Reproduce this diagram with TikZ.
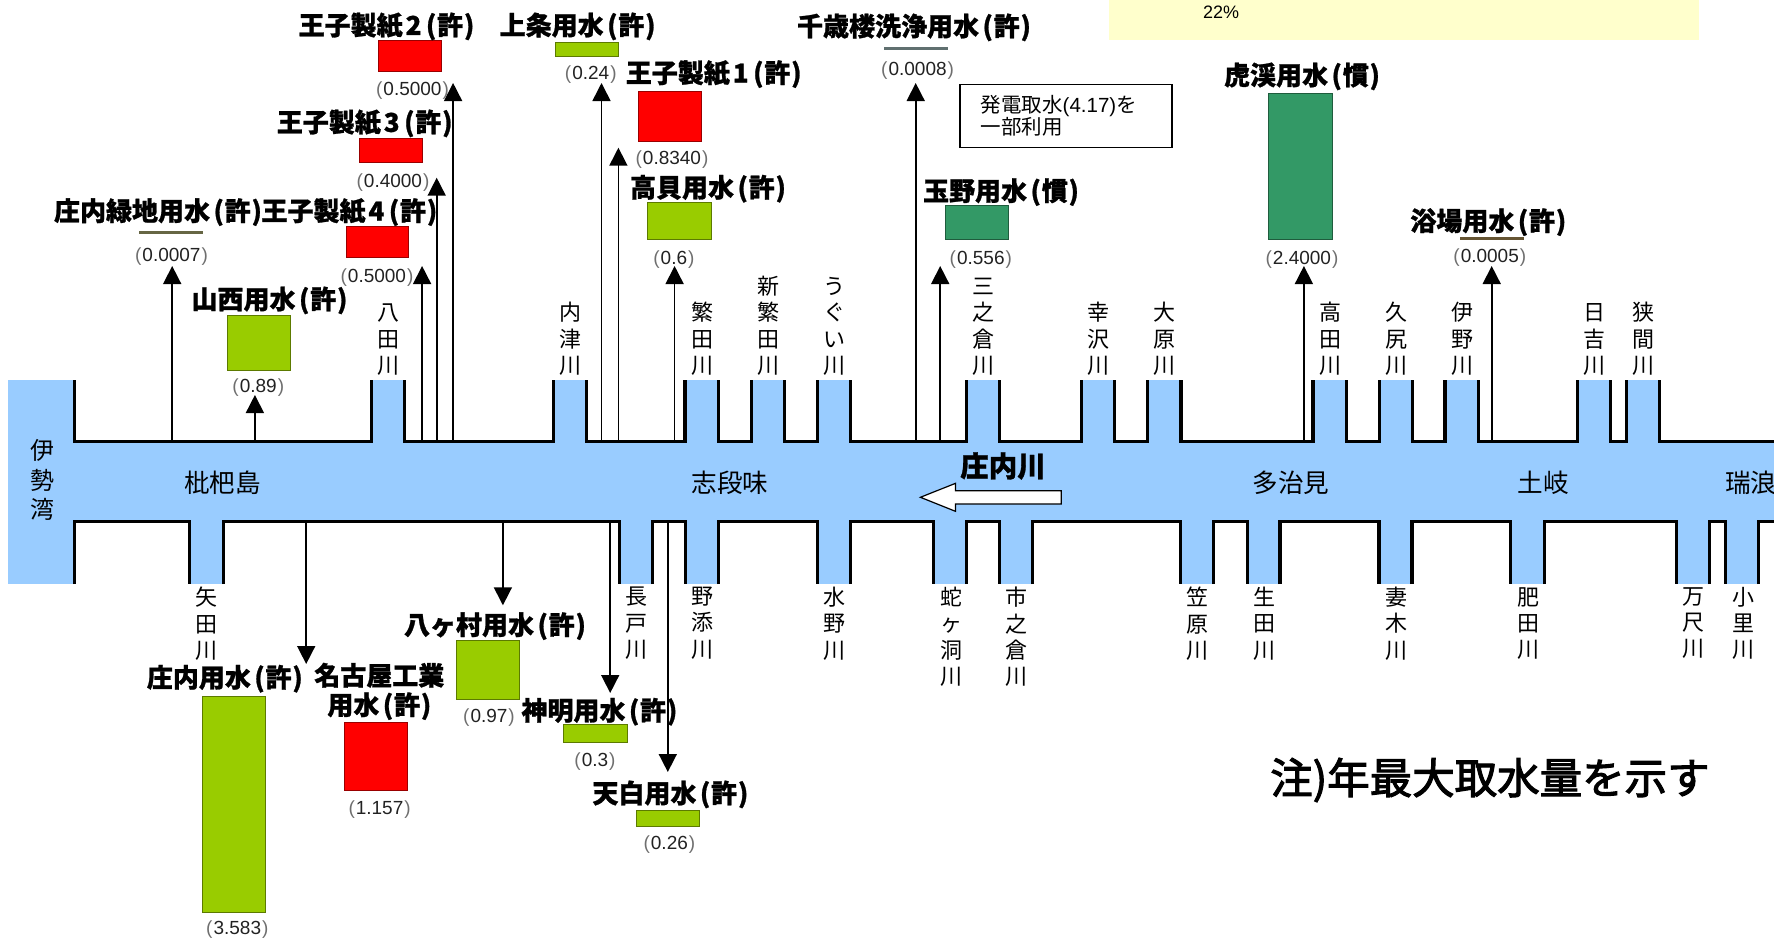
\documentclass[tikz,border=0pt]{standalone}
\usepackage{fontspec}
\usetikzlibrary{arrows.meta}
\setmainfont{Liberation Sans}
\newfontfamily\cjk[BoldFeatures={FakeBold=1}]{Noto Sans CJK JP}
\newfontfamily\cjknote[FakeBold=2.5]{Noto Sans CJK JP}
\definecolor{riverblue}{HTML}{99CCFF}
\definecolor{permgreen}{HTML}{99CC00}
\definecolor{custgreen}{HTML}{339966}
\definecolor{permred}{HTML}{FF0000}
\definecolor{paleyellow}{HTML}{FFFFCC}
\definecolor{valgrey}{HTML}{222222}
\tikzset{
  bank/.style={line width=3.2pt,draw=black,miter limit=10},
  tapline/.style={line width=1.6pt,draw=black,-{Triangle[width=18pt,length=18pt]}},
  barbox/.style={inner sep=0pt,outer sep=0pt,line width=1pt},
  thinbar/.style={inner sep=0pt,outer sep=0pt},
  wname/.style={inner sep=0pt,font=\cjk\bfseries\fontsize{26}{29.4}\selectfont,align=center},
  wvalue/.style={inner sep=0pt,font=\fontsize{19}{22}\selectfont,text=valgrey},
  rivlabel/.style={inner sep=0pt,font=\cjk\fontsize{22}{26.2}\selectfont,align=center},
  place/.style={inner sep=0pt,font=\cjk\fontsize{25.6}{28}\selectfont},
  notebox/.style={draw=black,line width=1.6pt,fill=white,inner xsep=21pt,inner ysep=0pt,text width=170pt,minimum height=63pt,align=left,font=\fontsize{20.5}{21.4}\selectfont},
  flowarrow/.style={draw=black,fill=white,line width=1.2pt,line join=miter}
}
\newcommand{\pa}[1]{\kern3.5pt(\kern0.8pt#1\kern0.8pt)}
\newcommand{\rivT}[3]{\node[rivlabel,anchor=south] (#1) at (#2,375.5) {#3};}
\newcommand{\rivB}[3]{\node[rivlabel,anchor=north] (#1) at (#2,587) {#3};}
\newcommand{\wbar}[6]{\node[barbox,draw=#6!60!black,fill=#6,minimum width={#4-#2},minimum height={#5-#3}] (#1) at ({(#2+#4)/2},{(#3+#5)/2}) {};}
\newcommand{\wthin}[5]{\node[thinbar,fill=#5,minimum width={#3-#2},minimum height=2.6pt] (#1) at ({(#2+#3)/2},#4) {};}
\newcommand{\wlbl}[4]{\node[wname] (#1) at (#2,#3+1.4) {#4};}
\newcommand{\wval}[4]{\node[wvalue] (#1) at (#2,#3+1.8) {{\color{valgrey!65}(}\kern1pt#4\kern1pt{\color{valgrey!65})}};}
\newcommand{\tapU}[3]{\coordinate (#1-from) at (#2,441); \coordinate (#1-to) at (#2,#3); \draw[tapline] (#1-from) -- (#1-to);}
\newcommand{\tapD}[3]{\coordinate (#1-from) at (#2,521); \coordinate (#1-to) at (#2,#3); \draw[tapline] (#1-from) -- (#1-to);}
\begin{document}
\begin{tikzpicture}[x=1pt,y=-1pt]
\useasboundingbox (0,0) rectangle (1774,938);
% note band
\fill[paleyellow] (1109,0) rectangle (1699,39.7);
\node[inner sep=0pt,font=\fontsize{18}{20}\selectfont] (pct) at (1221,12) {22\%};
% river
\fill[riverblue] (8,441) rectangle (1774,522);
\fill[riverblue] (8,380) rectangle (74.6,584);
\foreach \a/\b in {371.6/404.5,553.4/586.7,685/718.6,751.5/784.5,817.4/850.7,966.2/999.2,1081.4/1114.3,1147.6/1181,1313/1346.3,1379.2/1412.2,1445/1478.5,1577.4/1610.3,1626.6/1659.5}
  \fill[riverblue] (\a,380) rectangle (\b,441);
\foreach \a/\b in {189.8/223.1,619.2/652.7,685.7/718.8,817.6/850.2,933.5/966.5,999.2/1032.2,1180.8/1213.6,1247.2/1280,1379/1412,1510.8/1544.4,1676.2/1709.3,1725.1/1758.7}
  \fill[riverblue] (\a,521) rectangle (\b,584);
% banks
\draw[bank] (74.6,380) -- (74.6,441.4) -- (371.6,441.4) -- (371.6,380);
\foreach \a/\b in {404.5/553.4,586.7/685,718.6/751.5,784.5/817.4,850.7/966.2,999.2/1081.4,1114.3/1147.6,1181/1313,1346.3/1379.2,1412.2/1445,1478.5/1577.4,1610.3/1626.6}
  \draw[bank] (\a,380) -- (\a,441.4) -- (\b,441.4) -- (\b,380);
\draw[bank] (1659.5,380) -- (1659.5,441.4) -- (1774,441.4);
\draw[bank] (74.6,584) -- (74.6,521.4) -- (189.8,521.4) -- (189.8,584);
\foreach \a/\b in {223.1/619.2,652.7/685.7,718.8/817.6,850.2/933.5,966.5/999.2,1032.2/1180.8,1213.6/1247.2,1280/1379,1412/1510.8,1544.4/1676.2,1709.3/1725.1}
  \draw[bank] (\a,584) -- (\a,521.4) -- (\b,521.4) -- (\b,584);
\draw[bank] (1758.7,584) -- (1758.7,521.4) -- (1774,521.4);
% withdrawal arrows
\tapU{ryokuchi}{172.2}{266}
\tapU{yamanishi}{254.9}{395}
\tapU{oji4}{422.1}{266}
\tapU{oji3}{436.7}{177.7}
\tapU{oji2}{453.1}{83}
\tapU{kamijo}{601.5}{83}
\tapU{oji1}{618.4}{147.7}
\tapU{takagai}{674.6}{266}
\tapU{chitose}{915.7}{83}
\tapU{tamano}{940.2}{266}
\tapU{kokei}{1303.9}{266}
\tapU{yokuba}{1491.7}{266}
\tapD{shonai}{306.2}{664}
\tapD{hakkason}{502.9}{605.3}
\tapD{shinmei}{610.2}{693}
\tapD{tenpaku}{667.8}{772}
% bars
\wbar{b-oji2}{378.9}{40.7}{441.6}{71.7}{permred}
\wbar{b-oji3}{359}{138.3}{422}{162.7}{permred}
\wbar{b-oji4}{346}{226.7}{408.7}{257.7}{permred}
\wbar{b-yamanishi}{227}{315}{290}{370}{permgreen}
\wbar{b-kamijo}{555.3}{42.3}{618.8}{56.7}{permgreen}
\wbar{b-oji1}{638.3}{91.7}{701.4}{141.7}{permred}
\wbar{b-takagai}{647.8}{202.7}{711}{239.3}{permgreen}
\wbar{b-tamano}{945.6}{205.7}{1008.7}{239.3}{custgreen}
\wbar{b-kokei}{1268.6}{93.3}{1332.3}{239.3}{custgreen}
\wbar{b-shonai}{202}{696.3}{265.2}{912.3}{permgreen}
\wbar{b-nagoya}{344}{722}{407.6}{790.7}{permred}
\wbar{b-hakkason}{456.6}{640}{519.7}{699.3}{permgreen}
\wbar{b-shinmei}{563.3}{724.7}{627}{742.7}{permgreen}
\wbar{b-tenpaku}{636.3}{810}{699.6}{826.3}{permgreen}
\definecolor{linea}{HTML}{666644}
\definecolor{lineb}{HTML}{607070}
\definecolor{linec}{HTML}{665533}
\wthin{b-ryokuchi}{139}{202.8}{232.3}{linea}
\wthin{b-chitose}{884}{947.5}{48.5}{lineb}
\wthin{b-yokuba}{1460.3}{1523.6}{238.3}{linec}
% names
\wlbl{n-oji2}{386.5}{25}{王子製紙\kern3pt 2\kern1pt\pa{許}}
\wlbl{n-oji3}{364.7}{122}{王子製紙\kern3pt 3\kern1pt\pa{許}}
\wlbl{n-oji4}{349.4}{210.7}{王子製紙\kern3pt 4\kern1pt\pa{許}}
\wlbl{n-ryokuchi}{158}{210.7}{庄内緑地用水\pa{許}}
\wlbl{n-yamanishi}{269.5}{299}{山西用水\pa{許}}
\wlbl{n-kamijo}{577.6}{25}{上条用水\pa{許}}
\wlbl{n-oji1}{713.7}{72.7}{王子製紙\kern3pt 1\kern1pt\pa{許}}
\wlbl{n-takagai}{708}{187.3}{高貝用水\pa{許}}
\wlbl{n-chitose}{914}{26}{千歳楼洗浄用水\pa{許}}
\wlbl{n-tamano}{1001}{190.7}{玉野用水\pa{慣}}
\wlbl{n-kokei}{1302}{75}{虎渓用水\pa{慣}}
\wlbl{n-yokuba}{1488.3}{220.7}{浴場用水\pa{許}}
\wlbl{n-shonai}{224.8}{677.3}{庄内用水\pa{許}}
\wlbl{n-nagoya}{379.3}{690}{名古屋工業\\用水\pa{許}}
\wlbl{n-hakkason}{495}{624.7}{八ヶ村用水\pa{許}}
\wlbl{n-shinmei}{599.4}{710.3}{神明用水\pa{許}}
\wlbl{n-tenpaku}{670.4}{793}{天白用水\pa{許}}
% values
\wval{v-oji2}{412.5}{89}{0.5000}
\wval{v-oji3}{393}{180.3}{0.4000}
\wval{v-oji4}{377}{275.3}{0.5000}
\wval{v-ryokuchi}{171.5}{254.3}{0.0007}
\wval{v-yamanishi}{258.3}{386}{0.89}
\wval{v-kamijo}{590.8}{73}{0.24}
\wval{v-oji1}{672}{158}{0.8340}
\wval{v-takagai}{673.9}{257.3}{0.6}
\wval{v-chitose}{917.6}{68.3}{0.0008}
\wval{v-tamano}{980.8}{257.3}{0.556}
\wval{v-kokei}{1302}{257.3}{2.4000}
\wval{v-yokuba}{1489.8}{255.7}{0.0005}
\wval{v-shonai}{237.3}{927.3}{3.583}
\wval{v-nagoya}{379.6}{807.3}{1.157}
\wval{v-hakkason}{489}{715.3}{0.97}
\wval{v-shinmei}{595}{759.3}{0.3}
\wval{v-tenpaku}{669.4}{843}{0.26}
% remark box
\node[notebox] (remark) at (1065.7,115.8) {{\cjk 発電取水}(4.17){\cjk を}\\{\cjk 一部利用}};
% tributaries, north bank
\rivT{t-hatta}{388}{八\\田\\川}
\rivT{t-utsu}{570}{内\\津\\川}
\rivT{t-shige}{702.4}{繁\\田\\川}
\rivT{t-shinshige}{768.4}{新\\繁\\田\\川}
\rivT{t-ugui}{834.4}{う\\ぐ\\い\\川}
\rivT{t-minokura}{983.5}{三\\之\\倉\\川}
\rivT{t-sawa}{1098}{幸\\沢\\川}
\rivT{t-ohara}{1164.5}{大\\原\\川}
\rivT{t-takada}{1330}{高\\田\\川}
\rivT{t-kujiri}{1396}{久\\尻\\川}
\rivT{t-ino}{1462}{伊\\野\\川}
\rivT{t-hiyoshi}{1594}{日\\吉\\川}
\rivT{t-hazama}{1643}{狭\\間\\川}
% tributaries, south bank
\rivB{s-yada}{206.5}{矢\\田\\川}
\rivB{s-nagato}{636.7}{長\\戸\\川}
\rivB{s-nozoe}{702.9}{野\\添\\川}
\rivB{s-mizuno}{834.7}{水\\野\\川}
\rivB{s-jagabora}{951}{蛇\\ヶ\\洞\\川}
\rivB{s-ichinokura}{1016.3}{市\\之\\倉\\川}
\rivB{s-kasahara}{1197.8}{笠\\原\\川}
\rivB{s-ikuta}{1264.5}{生\\田\\川}
\rivB{s-tsumaki}{1396}{妻\\木\\川}
\rivB{s-hida}{1528}{肥\\田\\川}
\rivB{s-manjaku}{1693}{万\\尺\\川}
\rivB{s-ori}{1743.3}{小\\里\\川}
% places
\node[inner sep=0pt,font=\cjk\fontsize{24}{29.5}\selectfont,align=center] (isewan) at (42,480) {伊\\勢\\湾};
\node[place] (biwajima) at (222.5,483) {枇杷島};
\node[place] (shidami) at (730,483) {志段味};
\node[place] (tajimi) at (1291,483) {多治見};
\node[place] (toki) at (1543.5,483) {土岐};
\node[place,anchor=west] (mizunami) at (1725,483) {瑞浪};
\node[inner sep=0pt,font=\cjk\bfseries\fontsize{28.5}{30}\selectfont] (shonaigawa) at (1003,466) {庄内川};
\draw[flowarrow] (920.4,497.3) -- (955.5,483.3) -- (955.5,490.7) -- (1061.2,490.7) -- (1061.2,504) -- (955.5,504) -- (955.5,511.3) -- cycle;
% footnote
\node[inner sep=0pt,font=\cjknote\fontsize{42.5}{46}\selectfont] (footnote) at (1490,780) {注)年最大取水量を示す};
\end{tikzpicture}
\end{document}
